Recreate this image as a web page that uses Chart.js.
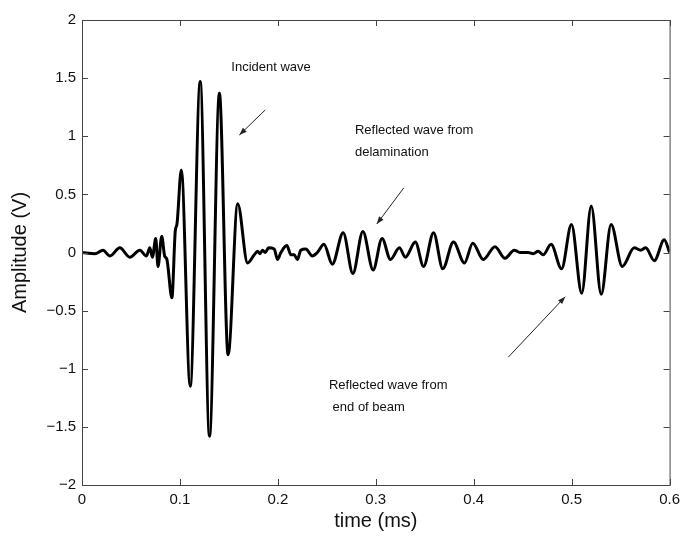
<!DOCTYPE html>
<html>
<head>
<meta charset="utf-8">
<script src="https://cdn.jsdelivr.net/npm/chart.js@4.4.1/dist/chart.umd.min.js"></script>
<style>
  html, body { margin: 0; padding: 0; background: #fff; }
  #wrap { width: 686px; height: 536px; }
</style>
</head>
<body>
<div id="wrap"><canvas id="grafico"></canvas></div>
<script>
// waveform (time in ms, amplitude in V)
const times = [0, 0.0132, 0.0214, 0.0285, 0.0386, 0.0488, 0.059, 0.0658, 0.0692, 0.0719,
  0.0753, 0.0776, 0.0814, 0.0844, 0.0867, 0.0918, 0.0953, 0.0969, 0.1014, 0.1105,
  0.1207, 0.1302, 0.1403, 0.1492, 0.159, 0.1691, 0.1759, 0.1793, 0.1817, 0.1844,
  0.1871, 0.1905, 0.1963, 0.1996, 0.2031, 0.2092, 0.2133, 0.2166, 0.22, 0.2234,
  0.2285, 0.2352, 0.2403, 0.2471, 0.2556, 0.2667, 0.2766, 0.2868, 0.2973, 0.3064,
  0.315, 0.3241, 0.3302, 0.3404, 0.3488, 0.359, 0.3684, 0.3793, 0.3905, 0.399,
  0.4098, 0.4217, 0.4319, 0.4414, 0.4472, 0.4556, 0.4607, 0.4658, 0.4709, 0.479,
  0.4897, 0.4998, 0.5103, 0.52, 0.5302, 0.5403, 0.5517, 0.5639, 0.5705, 0.5756,
  0.5844, 0.5946, 0.6];
const amplitudes = [0, -0.01, 0.02, -0.03, 0.04, -0.04, 0.02, -0.03, 0.04, -0.04,
  0.12, -0.12, 0.14, -0.03, -0.06, -0.39, 0.19, 0.24, 0.71, -1.15,
  1.47, -1.58, 1.37, -0.88, 0.42, -0.09, -0.02, 0.01, -0.01, 0.02,
  0.0, 0.04, 0.03, -0.06, 0.0, 0.06, -0.02, -0.02, -0.06, 0.02,
  0.03, -0.03, 0.0, 0.07, -0.10, 0.17, -0.18, 0.18, -0.15, 0.12,
  -0.06, 0.04, -0.04, 0.09, -0.12, 0.17, -0.14, 0.09, -0.09, 0.08,
  -0.06, 0.05, -0.05, 0.02, 0.0, 0.0, -0.01, 0.01, -0.02, 0.07,
  -0.14, 0.24, -0.35, 0.40, -0.36, 0.24, -0.12, 0.04, 0.02, 0.04,
  -0.07, 0.11, 0.0];

const xTicks = [0, 0.1, 0.2, 0.3, 0.4, 0.5, 0.6];
const yTicks = [-2, -1.5, -1, -0.5, 0, 0.5, 1, 1.5, 2];

// annotations: text lines anchored at [time, amplitude]
const notes = [
  { at: [0.1525, 1.59], lines: ['Incident wave'] },
  { at: [0.2787, 1.05], lines: ['Reflected wave from', 'delamination'] },
  { at: [0.2522, -1.14], lines: ['Reflected wave from', ' end of beam'] }
];
// arrows: [fromTime, fromAmp, toTime, toAmp]
const arrows = [
  [0.1871, 1.226, 0.1607, 1.011],
  [0.3285, 0.555, 0.301, 0.245],
  [0.4353, -0.90, 0.4935, -0.38]
];

const fmt = v => {
  const s = String(Math.round(v * 10) / 10);
  return s.replace('-', '\u2212');
};

const boxPlugin = {
  id: 'box',
  afterDatasetsDraw(chart) {
    const { ctx, chartArea: a, scales: { x, y } } = chart;
    ctx.save();
    ctx.strokeStyle = '#444';
    ctx.lineWidth = 1;
    ctx.strokeRect(a.left + 0.5, a.top + 0.5, a.right - a.left, a.bottom - a.top);
    ctx.beginPath();
    xTicks.forEach(t => {
      const px = Math.round(x.getPixelForValue(t)) + 0.5;
      ctx.moveTo(px, a.bottom); ctx.lineTo(px, a.bottom - 6);
      ctx.moveTo(px, a.top); ctx.lineTo(px, a.top + 6);
    });
    yTicks.forEach(v => {
      const py = Math.round(y.getPixelForValue(v)) + 0.5;
      ctx.moveTo(a.left, py); ctx.lineTo(a.left + 6, py);
      ctx.moveTo(a.right, py); ctx.lineTo(a.right - 6, py);
    });
    ctx.stroke();

    ctx.fillStyle = '#111';
    ctx.font = '13px "Liberation Sans", Arial, sans-serif';
    ctx.textBaseline = 'middle';
    notes.forEach(n => {
      const px = x.getPixelForValue(n.at[0]);
      const py = y.getPixelForValue(n.at[1]);
      n.lines.forEach((l, i) => ctx.fillText(l, px, py + i * 22));
    });

    ctx.strokeStyle = '#222';
    ctx.fillStyle = '#222';
    arrows.forEach(r => {
      const x0 = x.getPixelForValue(r[0]), y0 = y.getPixelForValue(r[1]);
      const x1 = x.getPixelForValue(r[2]), y1 = y.getPixelForValue(r[3]);
      ctx.beginPath(); ctx.moveTo(x0, y0); ctx.lineTo(x1, y1); ctx.stroke();
      const ang = Math.atan2(y1 - y0, x1 - x0);
      ctx.beginPath();
      ctx.moveTo(x1, y1);
      ctx.lineTo(x1 - 8 * Math.cos(ang - 0.35), y1 - 8 * Math.sin(ang - 0.35));
      ctx.lineTo(x1 - 8 * Math.cos(ang + 0.35), y1 - 8 * Math.sin(ang + 0.35));
      ctx.closePath(); ctx.fill();
    });
    ctx.restore();
  }
};

const canvas = document.getElementById('grafico');
new Chart(canvas, {
  type: 'line',
  data: {
    datasets: [{
      data: times.map((t, i) => ({ x: t, y: amplitudes[i] })),
      borderColor: '#000',
      borderWidth: 3,
      pointRadius: 0,
      cubicInterpolationMode: 'monotone',
      fill: false
    }]
  },
  options: {
    responsive: true,
    maintainAspectRatio: false,
    animation: false,
    layout: { padding: { top: 20, right: 14, left: 0, bottom: 0 } },
    plugins: { legend: { display: false }, tooltip: { enabled: false } },
    scales: {
      x: {
        type: 'linear', min: 0, max: 0.6,
        afterBuildTicks: s => { s.ticks = xTicks.map(v => ({ value: v })); },
        afterFit: s => { s.height = 51; },
        grid: { display: false, drawTicks: false },
        border: { display: false },
        ticks: { callback: fmt, color: '#111', padding: 6, maxRotation: 0,
          font: { family: '"Liberation Sans", Arial, sans-serif', size: 15 } },
        title: { display: true, text: 'time (ms)', color: '#111', padding: { top: 0, bottom: 3 },
          font: { family: '"Liberation Sans", Arial, sans-serif', size: 20 } }
      },
      y: {
        min: -2, max: 2,
        afterBuildTicks: s => { s.ticks = yTicks.map(v => ({ value: v })); },
        afterFit: s => { s.width = 82; },
        grid: { display: false, drawTicks: false },
        border: { display: false },
        ticks: { callback: fmt, color: '#111', padding: 6,
          font: { family: '"Liberation Sans", Arial, sans-serif', size: 15 } },
        title: { display: true, text: 'Amplitude (V)', color: '#111', padding: { top: 8, bottom: 0 },
          font: { family: '"Liberation Sans", Arial, sans-serif', size: 20 } }
      }
    }
  },
  plugins: [boxPlugin]
});
</script>
</body>
</html>
